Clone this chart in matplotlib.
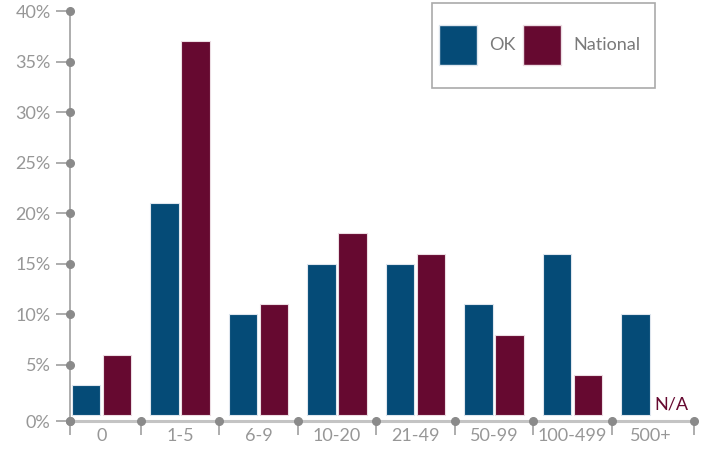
import matplotlib
matplotlib.use("Agg")
import matplotlib.pyplot as plt
from matplotlib.patches import Patch, Rectangle
import numpy as np

plt.rcParams['font.family'] = ['Lato', 'DejaVu Sans']

categories = ['0', '1-5', '6-9', '10-20', '21-49', '50-99', '100-499', '500+']
ok_pct = [3, 21, 10, 15, 15, 11, 16, 10]
national_pct = [6, 37, 11, 18, 16, 8, 4, None]   # no national figure for 500+
y_ticks = [0, 5, 10, 15, 20, 25, 30, 35, 40]

blue = '#054b77'
maroon = '#660930'
grey_txt = '#979797'
grey_dot = '#8a8a8a'

W, H = 703, 455
fig = plt.figure(figsize=(W / 100, H / 100), dpi=100)
ax = fig.add_axes([70 / W, 34 / H, 624 / W, 410 / H])

x = np.arange(len(categories))
w = 0.363
gap = 0.395
ax.bar(x - gap / 2, ok_pct, w, color=blue, edgecolor='#dfe6ee', linewidth=0.8, zorder=3)
nat_x = [xi + gap / 2 for xi, v in zip(x, national_pct) if v is not None]
nat_v = [v for v in national_pct if v is not None]
ax.bar(nat_x, nat_v, w, color=maroon, edgecolor='#ecdde3', linewidth=0.8, zorder=3)

# missing national value
ax.text(x[-1] + gap / 2 + 0.07, 0.3, 'N/A', color=maroon, fontsize=13,
        ha='center', va='bottom')

ymin = -0.55
xmin, xmax = -0.4, len(categories) - 0.45
ax.set_xlim(xmin, xmax)
ax.set_ylim(ymin, 40)

for s in ['top', 'right']:
    ax.spines[s].set_visible(False)
ax.spines['left'].set_color('#a0a0a0')
ax.spines['left'].set_linewidth(1.2)
ax.spines['bottom'].set_color('#c4c4c4')
ax.spines['bottom'].set_linewidth(2.2)

# y ticks: the 0% tick sits on the x axis line
ytick_pos = [ymin] + y_ticks[1:]
ax.set_yticks(ytick_pos)
ax.set_yticklabels([f'{t}%' for t in y_ticks])
ax.tick_params(axis='y', length=10, width=1.2, color='#a0a0a0', pad=4,
               labelsize=13, labelcolor=grey_txt)

# x ticks at group boundaries, labels at group centres
bounds = np.concatenate([[xmin], np.arange(0.5, len(categories) - 1, 1.0), [xmax]])
ax.set_xticks(bounds)
ax.set_xticklabels([])
ax.set_xticks(x, minor=True)
ax.set_xticklabels(categories, minor=True)
ax.tick_params(axis='x', which='major', length=10, width=1.2, color='#a0a0a0')
ax.tick_params(axis='x', which='minor', length=0, pad=5,
               labelsize=13, labelcolor=grey_txt)

# dots on tick positions
ax.plot(np.full(len(ytick_pos), xmin), ytick_pos, 'o', color=grey_dot,
        markersize=5.5, clip_on=False, zorder=5)
ax.plot(bounds, np.full(len(bounds), ymin), 'o', color=grey_dot,
        markersize=5.5, clip_on=False, zorder=5)

# legend: plain box with the two swatches inside
fig.add_artist(Rectangle((432 / W, 1 - 88 / H), 223 / W, 85 / H,
                         transform=fig.transFigure, facecolor='white',
                         edgecolor='#aaaaaa', linewidth=1.2, zorder=10))
handles = [Patch(facecolor=blue, edgecolor='#dfe6ee', label='OK'),
           Patch(facecolor=maroon, edgecolor='#ecdde3', label='National')]
leg = fig.legend(handles=handles, loc='center left', ncol=2,
                 bbox_to_anchor=(439 / W, 1 - 45 / H), frameon=False,
                 fontsize=13, handlelength=2.1, handleheight=3.0,
                 handletextpad=0.7, columnspacing=0.4, borderpad=0,
                 borderaxespad=0)
leg.set_zorder(11)
for t in leg.get_texts():
    t.set_color('#7a7a7a')

fig.savefig('out.png', dpi=100)
